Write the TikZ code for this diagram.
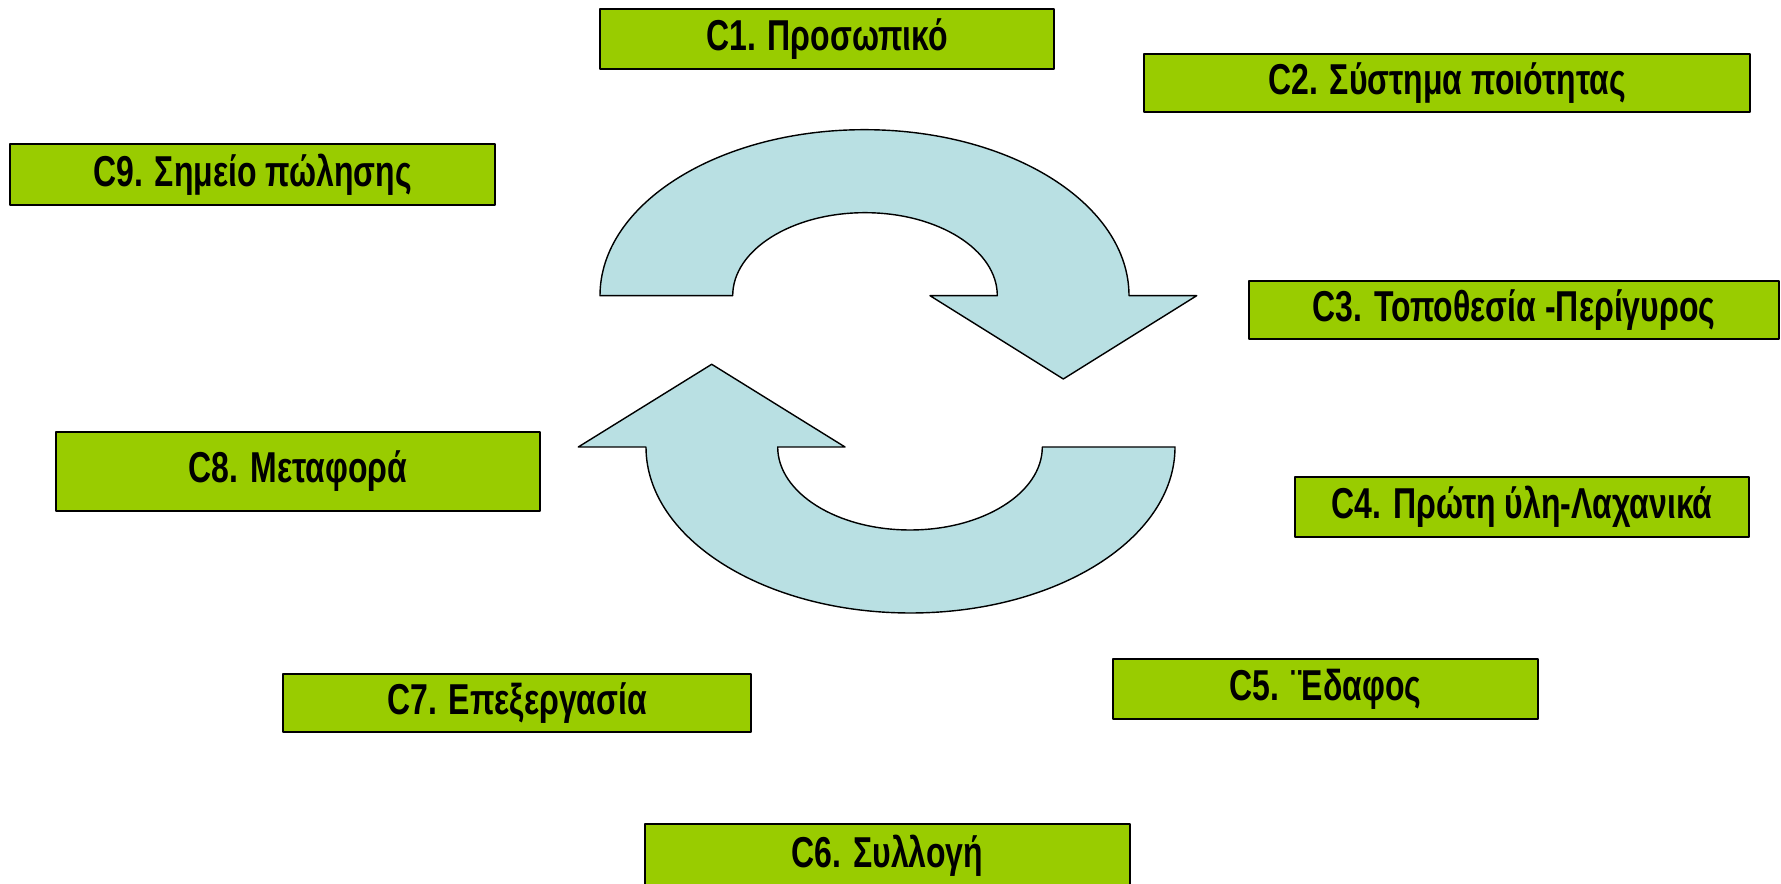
\documentclass[tikz,border=0pt]{standalone}
\usepackage{fontspec}
\setmainfont{Liberation Sans}[FakeStretch=0.74]
\definecolor{critgreen}{RGB}{153,204,0}
\definecolor{cyclecyan}{RGB}{185,224,227}
\begin{document}
\begin{tikzpicture}[crit/.style={draw=black,line width=0.6pt,fill=critgreen,inner sep=0pt,font=\fontsize{12.3}{14}\selectfont\bfseries}, line join = round, line cap = round]
      \useasboundingbox (0,0) rectangle (17.81,8.84);

      \coordinate (a1) at (6.00,5.883);
      \coordinate (b1) at (11.967,5.883);
      \coordinate (t1) at (10.633,5.05);
      \coordinate (c1) at (9.30,5.883);
      \coordinate (d1) at (9.973,5.883);

      \coordinate (a2) at (11.75,4.37);
      \coordinate (b2) at (5.783,4.37);
      \coordinate (t2) at (7.117,5.197);
      \coordinate (c2) at (8.45,4.37);
      \coordinate (d2) at (7.777,4.37);

      \draw [fill=cyclecyan, line width=0.4pt] (a1) arc[start angle=180, end angle=0, x radius=2.645, y radius=1.66] -- (b1) -- (t1) -- (c1) -- (d1) arc[start angle=0, end angle=180, x radius=1.323, y radius=0.83] -- cycle;
      \draw [fill=cyclecyan, line width=0.4pt] (a2) arc[start angle=0, end angle=-180, x radius=2.645, y radius=1.66] -- (b2) -- (t2) -- (c2) -- (d2) arc[start angle=180, end angle=360, x radius=1.323, y radius=0.83] -- cycle;

      \node [crit, minimum width=4.54cm, minimum height=0.60cm] (c1n) at (8.27,8.45) {C1. Προσωπικό};
      \node [crit, minimum width=6.06cm, minimum height=0.58cm] (c2n) at (14.47,8.01) {C2. Σύστημα ποιότητας};
      \node [crit, minimum width=5.30cm, minimum height=0.58cm] (c3n) at (15.14,5.74) {C3. Τοποθεσία -Περίγυρος};
      \node [crit, minimum width=4.54cm, minimum height=0.60cm] (c4n) at (15.22,3.77) {C4. Πρώτη ύλη-Λαχανικά};
      \node [crit, minimum width=4.25cm, minimum height=0.60cm] (c5n) at (13.255,1.95) {C5. ¨Εδαφος};
      \node [crit, minimum width=4.85cm, minimum height=0.64cm] (c6n) at (8.875,0.28) {C6. Συλλογή};
      \node [crit, minimum width=4.68cm, minimum height=0.58cm] (c7n) at (5.17,1.81) {C7. Επεξεργασία};
      \node [crit, minimum width=4.84cm, minimum height=0.79cm] (c8n) at (2.98,4.125) {C8. Μεταφορά};
      \node [crit, minimum width=4.85cm, minimum height=0.61cm] (c9n) at (2.525,7.095) {C9. Σημείο πώλησης};
    \end{tikzpicture}
\end{document}
